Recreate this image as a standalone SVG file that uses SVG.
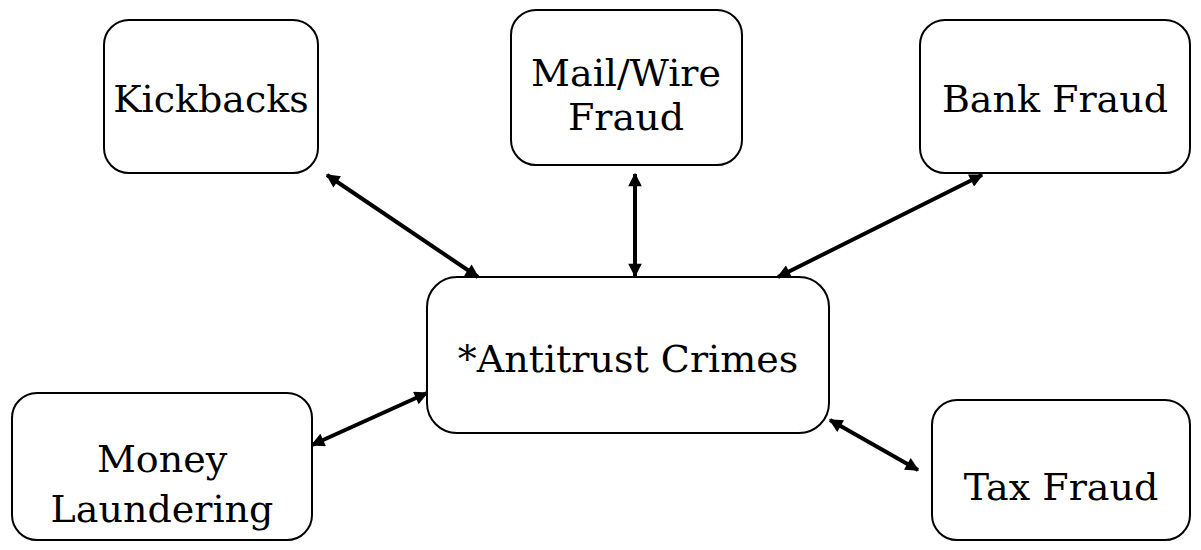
<svg xmlns="http://www.w3.org/2000/svg" width="1201" height="550" viewBox="0 0 1201 550">
<style>
.box{fill:#fff;stroke:#000;stroke-width:2}
.t{font-family:"DejaVu Serif","Liberation Serif",serif;font-size:38px;fill:#000;text-anchor:middle}
.c{stroke:#000;stroke-width:4;fill:none;marker-start:url(#a);marker-end:url(#a)}
</style>
<defs>
<marker id="a" viewBox="0 0 10 10" refX="9" refY="5" markerWidth="4" markerHeight="3.4" orient="auto-start-reverse" markerUnits="strokeWidth">
<path d="M0,0L10,5L0,10z" fill="#000"/>
</marker>
</defs>
<g id="kickbacks"><rect class="box" x="104" y="20" width="214" height="153" rx="25"/><text class="t" x="211" y="112">Kickbacks</text></g>
<g id="mailwire"><rect class="box" x="511" y="10" width="231" height="155" rx="25"/><text class="t" x="626" y="86">Mail/Wire</text><text class="t" x="626" y="130">Fraud</text></g>
<g id="bankfraud"><rect class="box" x="920" y="20" width="270" height="153" rx="25"/><text class="t" x="1055" y="112">Bank Fraud</text></g>
<g id="antitrust"><rect class="box" x="427" y="277" width="402" height="156" rx="30"/><text class="t" x="628" y="372">*Antitrust Crimes</text></g>
<g id="money"><rect class="box" x="12" y="393" width="300" height="147" rx="25"/><text class="t" x="162" y="472">Money</text><text class="t" x="162" y="522">Laundering</text></g>
<g id="tax"><rect class="box" x="932" y="400" width="258" height="140" rx="25"/><text class="t" x="1061" y="500">Tax Fraud</text></g>
<g id="connectors">
<line class="c" x1="327" y1="175" x2="478" y2="277"/>
<line class="c" x1="635" y1="174" x2="635" y2="276"/>
<line class="c" x1="982" y1="175" x2="778" y2="277"/>
<line class="c" x1="312" y1="445" x2="427" y2="393"/>
<line class="c" x1="830" y1="420" x2="918" y2="470"/>
</g>
</svg>
